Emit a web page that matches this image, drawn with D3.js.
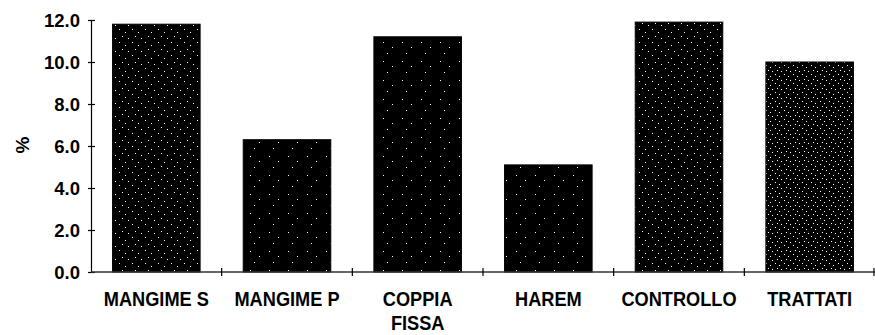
<!DOCTYPE html>
<html><head><meta charset="utf-8">
<script src="https://cdn.jsdelivr.net/npm/d3@7"></script>
<style>
html,body{margin:0;padding:0;background:#fff;}
svg{display:block;}
text{font-family:"Liberation Sans",Arial,Helvetica,sans-serif;font-weight:bold;fill:#000;}
</style></head>
<body>
<svg id="chart" width="875" height="335"></svg>
<script>
const categories = ["MANGIME S", "MANGIME P", "COPPIA FISSA", "HAREM", "CONTROLLO", "TRATTATI"];
const values = [11.8, 6.3, 11.2, 5.1, 11.9, 10.0];
const yTicks = [0, 2, 4, 6, 8, 10, 12];
const yLabel = "%";
const stipple = ["mid", "sparse", "sparse", "sparse", "mid", "dense"];

const svg = d3.select("#chart");
const mLeft = 91, mRight = 875, mTop = 20, mBottom = 272;

const x = d3.scaleBand().domain(categories).range([mLeft, mRight]).paddingInner(0.33).paddingOuter(0.165);
const y = d3.scaleLinear().domain([0, 12]).range([mBottom, mTop]);

// stipple patterns (white dots on black)
const defs = svg.append("defs");
const patternSpecs = {
  sparse: {size: 19, dots: [[3,4],[12,9],[7,15]]},
  mid: {size: 13, dots: [[2,3],[8,6],[5,10],[11,12]]},
  dense: {size: 9, dots: [[1,2],[5,4],[3,7],[7,8]]}
};
Object.entries(patternSpecs).forEach(([k, s]) => {
  const p = defs.append("pattern").attr("id", "pat-" + k)
    .attr("patternUnits", "userSpaceOnUse").attr("width", s.size).attr("height", s.size);
  p.append("rect").attr("width", s.size).attr("height", s.size).attr("fill", "#000");
  p.selectAll("rect.dot").data(s.dots).enter().append("rect").attr("class", "dot")
    .attr("x", d => d[0]).attr("y", d => d[1]).attr("width", 1).attr("height", 1).attr("fill", "#fff");
});

// bars
svg.append("g").selectAll("rect").data(categories).enter().append("rect")
  .attr("x", d => x(d))
  .attr("y", (d, i) => y(values[i]))
  .attr("width", x.bandwidth())
  .attr("height", (d, i) => y(0) - y(values[i]))
  .attr("fill", (d, i) => "url(#pat-" + stipple[i] + ")")
  .attr("stroke", "#000").attr("stroke-width", 1);

// y axis
const yAxis = d3.axisLeft(y).tickValues(yTicks).tickFormat(d3.format(".1f")).tickSize(0).tickPadding(11);
const gy = svg.append("g").attr("transform", `translate(${mLeft},0)`).call(yAxis);
gy.select(".domain").attr("stroke", "#000").attr("stroke-width", 1.2);
gy.selectAll(".tick text").style("font-size", "18.5px").attr("dy", "0.36em");
gy.selectAll(".tick").append("line").attr("x1", -3).attr("x2", 4).attr("stroke", "#000").attr("stroke-width", 1.2);

// x axis baseline
svg.append("line").attr("x1", mLeft).attr("x2", mRight).attr("y1", y(0)).attr("y2", y(0))
  .attr("stroke", "#333").attr("stroke-width", 1.5);
// category boundary ticks
const bounds = categories.map(d => x(d) + x.bandwidth() + x.step() * x.paddingInner() / 2);
svg.append("g").selectAll("line").data(bounds).enter().append("line")
  .attr("x1", d => Math.min(d, mRight - 1)).attr("x2", d => Math.min(d, mRight - 1))
  .attr("y1", y(0) - 4).attr("y2", y(0) + 4)
  .attr("stroke", "#000").attr("stroke-width", 1.2);

// category labels
const gl = svg.append("g");
categories.forEach(c => {
  const words = c === "COPPIA FISSA" ? ["COPPIA", "FISSA"] : [c];
  const cx = x(c) + x.bandwidth() / 2;
  const t = gl.append("text").attr("text-anchor", "middle").style("font-size", "20px")
    .attr("transform", `translate(${cx},306) scale(0.91,1)`);
  words.forEach((w, i) => t.append("tspan").attr("x", 0).attr("dy", i === 0 ? 0 : 24.5).text(w));
});

// y label
svg.append("text").attr("transform", "translate(29,145) rotate(-90)").attr("text-anchor", "middle")
  .style("font-size", "19px").text(yLabel);
</script>
</body></html>
